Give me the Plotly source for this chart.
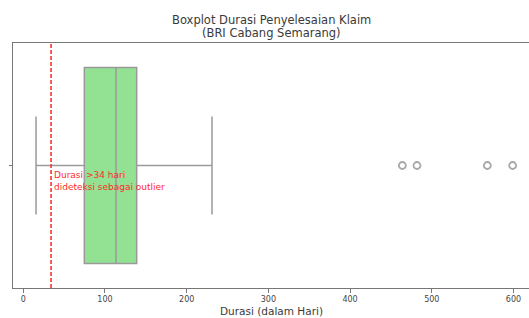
import plotly.graph_objects as go

# Data
q1 = [74.7]
median = [113.5]
q3 = [138.8]
lower_fence = [15.6]
upper_fence = [231.0]
outliers = [464.0, 481.9, 568.0, 599.0]
threshold = 34
x_ticks = [0, 100, 200, 300, 400, 500, 600]
title_lines = ["Boxplot Durasi Penyelesaian Klaim", "(BRI Cabang Semarang)"]
x_label = "Durasi (dalam Hari)"
note_text = "Durasi >34 hari<br>dideteksi sebagai outlier"

fig = go.Figure()
fig.add_trace(go.Box(
    orientation="h",
    y=[0], q1=q1, median=median, q3=q3,
    lowerfence=lower_fence, upperfence=upper_fence,
    width=0.8, whiskerwidth=0.5,
    fillcolor="#93e193",
    line=dict(color="#9a9a9a", width=1.5),
    boxpoints=False,
    hoverinfo="skip",
    showlegend=False,
))
fig.add_trace(go.Scatter(
    x=outliers, y=[0] * len(outliers), mode="markers",
    marker=dict(symbol="circle-open", size=7, color="#a8a8a8", line=dict(width=1.8)),
    showlegend=False, hoverinfo="skip",
))
fig.add_shape(type="line", x0=threshold, x1=threshold, y0=0, y1=1, yref="paper",
              line=dict(color="#ff3030", width=1.6, dash="4px,2px"))
fig.add_annotation(x=threshold + 1.5, y=-0.065, text=note_text, showarrow=False,
                   xanchor="left", yanchor="middle", align="left",
                   font=dict(family="DejaVu Sans", size=9, color="#ff2a2a"))
# Title lines as annotations (centred above the frame)
for line_text, ypos in zip(title_lines, [1.0959, 1.0408]):
    fig.add_annotation(x=0.5, xref="paper", y=ypos, yref="paper", text=line_text,
                       showarrow=False, xanchor="center", yanchor="middle",
                       font=dict(family="DejaVu Sans", size=11.5, color="#3a3a3a"))
# x-axis label
fig.add_annotation(x=0.5, xref="paper", y=-0.092, yref="paper", text=x_label,
                   showarrow=False, xanchor="center", yanchor="middle",
                   font=dict(family="DejaVu Sans", size=10.5, color="#3a3a3a"))

fig.update_layout(
    width=529, height=318,
    margin=dict(l=13, r=0, t=43, b=30),
    paper_bgcolor="white", plot_bgcolor="white",
    font=dict(family="DejaVu Sans", color="#444444"),
)
fig.update_xaxes(range=[-12.6, 619], tickvals=x_ticks, ticks="outside", ticklen=3.5,
                 tickcolor="#777777", showgrid=False, zeroline=False,
                 showline=True, linecolor="#777777", linewidth=1, mirror=True,
                 tickfont=dict(size=8, color="#444444"))
fig.update_yaxes(range=[-0.5, 0.5], tickvals=[0], ticks="outside", ticklen=3.5,
                 tickcolor="#777777", showticklabels=False, showgrid=False, zeroline=False,
                 showline=True, linecolor="#777777", linewidth=1, mirror=True)

fig.write_html("out.html", config={"displayModeBar": False},
               post_script="document.body.style.margin='0';document.body.style.overflow='hidden';")
